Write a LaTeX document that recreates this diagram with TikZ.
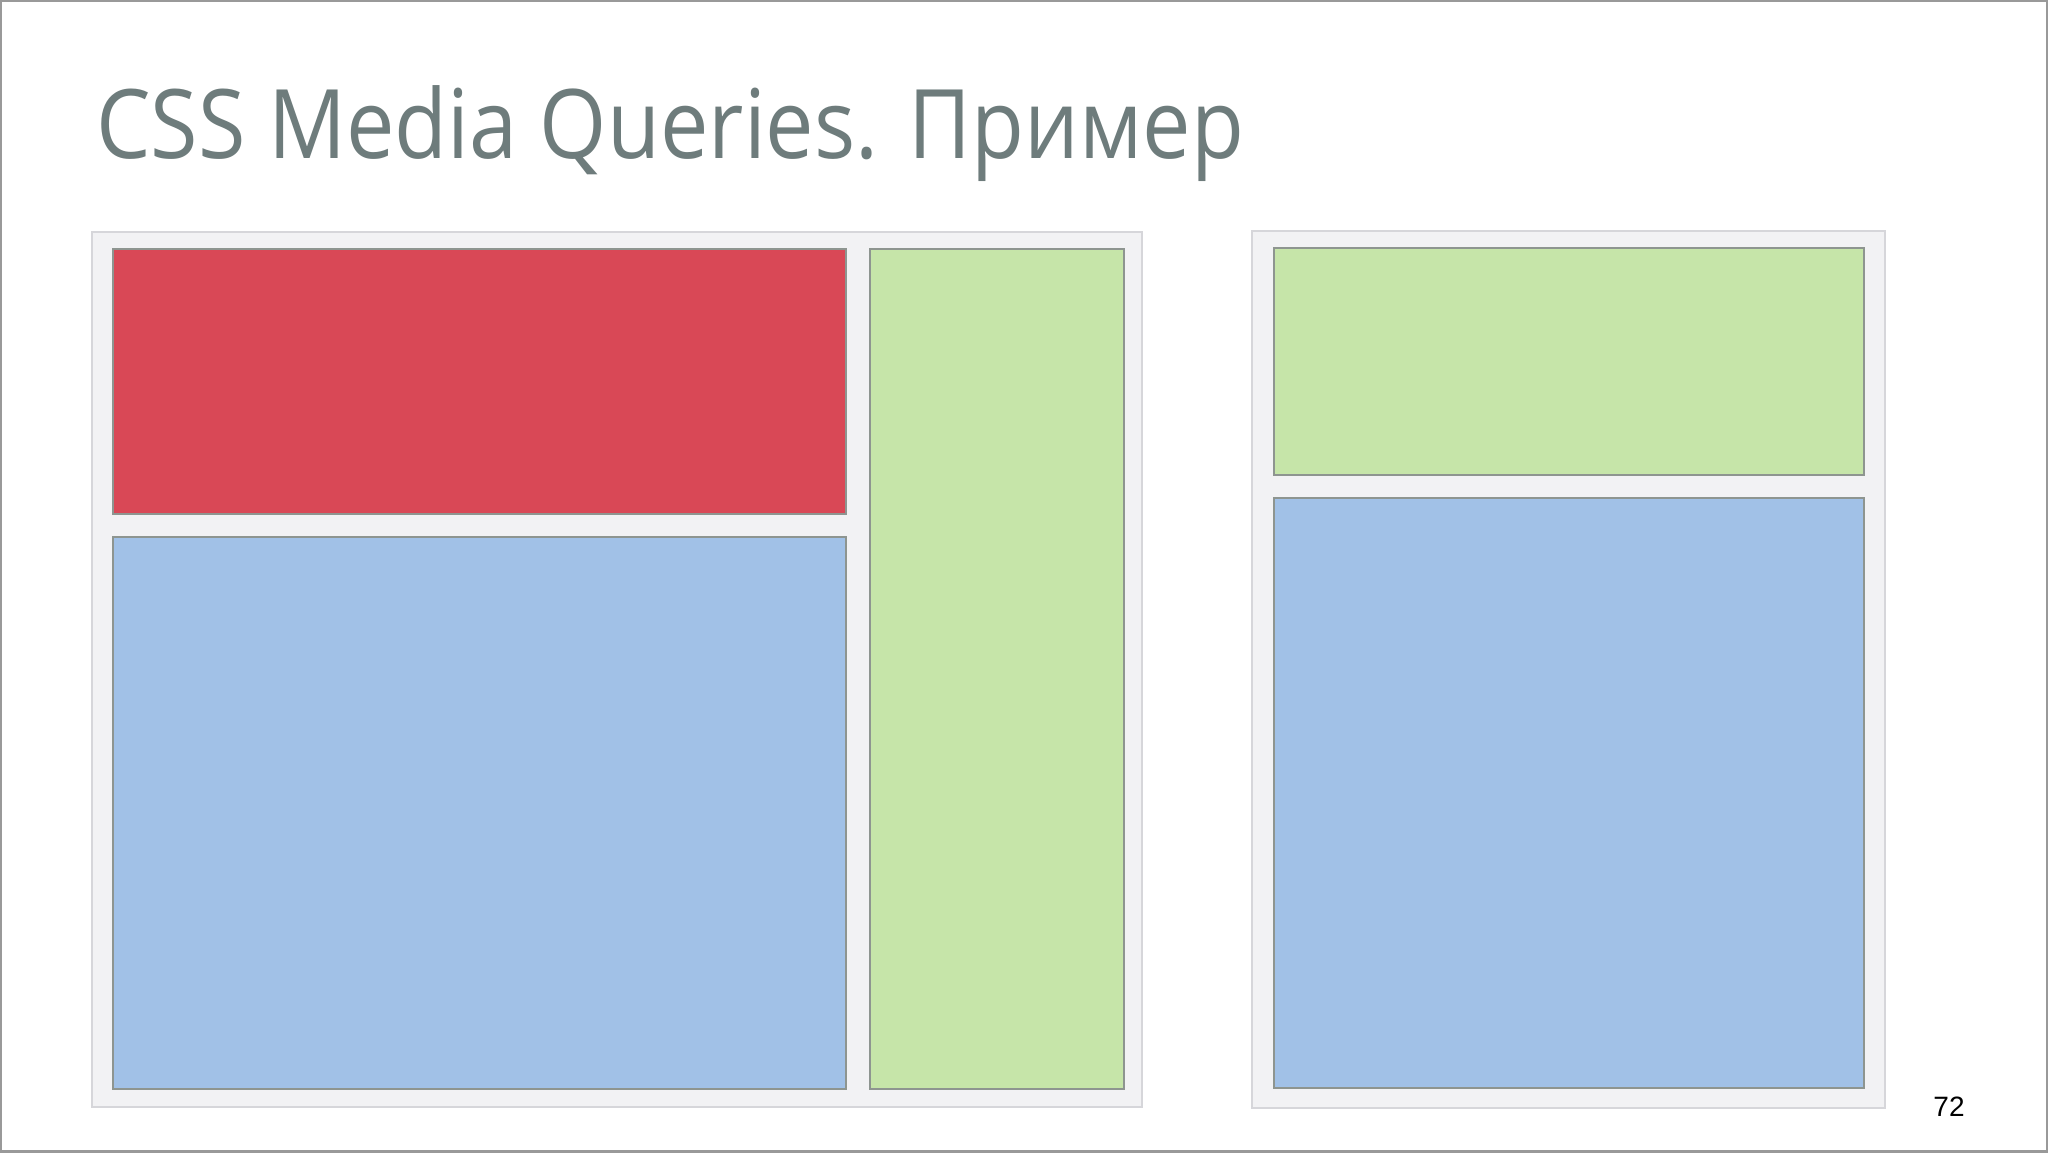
\documentclass[tikz,border=0pt]{standalone}
\usepackage{fontspec}
\setmainfont{Open Sans}
\newfontfamily\numfont{Liberation Sans}
\definecolor{titlegray}{HTML}{6E7C7C}
\definecolor{panelfill}{HTML}{F2F2F4}
\definecolor{panelline}{HTML}{D6D6DA}
\definecolor{boxline}{HTML}{8E9590}
\definecolor{redbox}{HTML}{D94856}
\definecolor{greenbox}{HTML}{C6E5A9}
\definecolor{bluebox}{HTML}{A1C1E7}
\definecolor{frameline}{HTML}{999999}
\tikzset{
  panel/.style={fill=panelfill, draw=panelline, line width=1.2pt},
  block/.style={draw=boxline, line width=1pt},
}
\begin{document}
\begin{tikzpicture}[x=0.5pt,y=-0.5pt]
\useasboundingbox (0,0) rectangle (2048,1152);
\fill[white] (0,0) rectangle (2048,1152);
\draw[frameline, line width=1.5pt] (0.75,0.75) rectangle (2047.25,1151.25);
% title
\node[anchor=base west, inner sep=0pt, text=titlegray, font=\fontsize{48}{48}\selectfont] (title) at (96,158) {\scalebox{0.9}[1]{CSS Media Queries. Пример}};
% left panel
\path[panel] (92,232) rectangle (1142,1107);
\path[block, fill=redbox] (113,249) rectangle (846,514);
\path[block, fill=bluebox] (113,537) rectangle (846,1089);
\path[block, fill=greenbox] (870,249) rectangle (1124,1089);
% right panel
\path[panel] (1252,231) rectangle (1885,1108);
\path[block, fill=greenbox] (1274,248) rectangle (1864,475);
\path[block, fill=bluebox] (1274,498) rectangle (1864,1088);
% page number
\node[inner sep=0pt, font=\numfont\fontsize{14}{15}\selectfont] (page) at (1949,1107) {72};
\end{tikzpicture}
\end{document}
